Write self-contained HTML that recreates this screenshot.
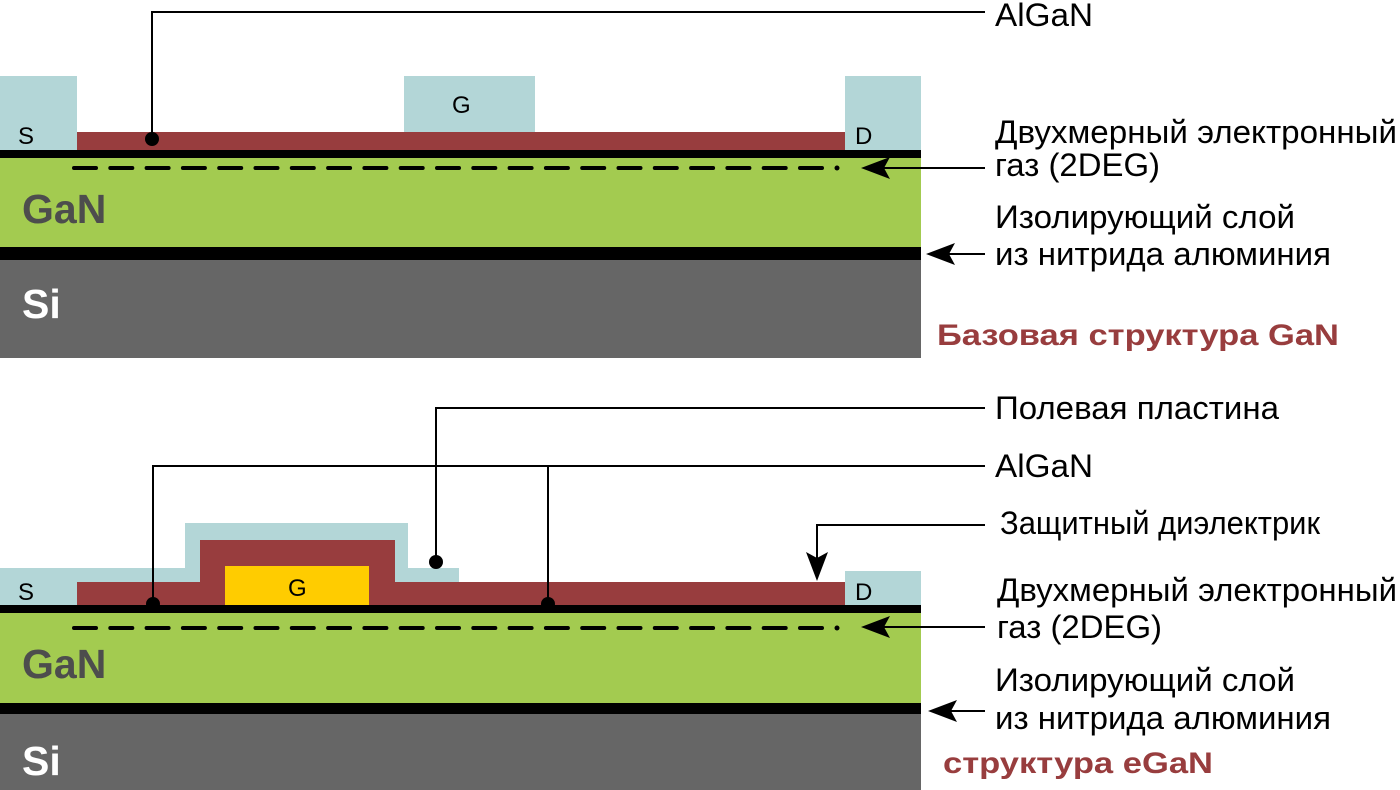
<!DOCTYPE html>
<html><head><meta charset="utf-8"><style>html,body{margin:0;padding:0;background:#fff}svg{display:block}</style></head>
<body>
<svg width="1400" height="790" viewBox="0 0 1400 790" xmlns="http://www.w3.org/2000/svg" font-family="Liberation Sans, sans-serif">
<!-- TOP -->
<rect x="0" y="76" width="77" height="74" fill="#b3d6d7"/>
<rect x="404" y="76" width="131" height="56" fill="#b3d6d7"/>
<rect x="845" y="76" width="76" height="74" fill="#b3d6d7"/>
<rect x="77" y="132" width="768" height="18" fill="#983d3e"/>
<rect x="0" y="150" width="921" height="8" fill="#000"/>
<rect x="0" y="158" width="921" height="89" fill="#a3cb50"/>
<rect x="0" y="247" width="921" height="13" fill="#000"/>
<rect x="0" y="260" width="921" height="98" fill="#666"/>
<line x1="74" y1="168" x2="830" y2="168" stroke="#000" stroke-width="4" stroke-dasharray="22 14.3" stroke-linecap="round"/>
<circle cx="837" cy="168" r="2.5" fill="#000"/>
<text x="18" y="144" font-size="24">S</text>
<text x="452" y="113" font-size="24">G</text>
<text x="855" y="144" font-size="24">D</text>
<text x="22" y="223" font-size="41" font-weight="bold" fill="#4d4d4d">GaN</text>
<text x="22" y="318" font-size="41" font-weight="bold" fill="#fff">Si</text>
<polyline points="152,139 152,12 985,12" fill="none" stroke="#000" stroke-width="2"/>
<circle cx="152" cy="139" r="7" fill="#000"/>
<line x1="985" y1="168" x2="875" y2="168" stroke="#000" stroke-width="2"/>
<polygon points="861,168 890,157 884,168 890,179" fill="#000"/>
<line x1="985" y1="254" x2="940" y2="254" stroke="#000" stroke-width="2"/>
<polygon points="926,254 955,243 949,254 955,265" fill="#000"/>
<g font-size="32" fill="#000">
<text x="995" y="26" textLength="98" lengthAdjust="spacingAndGlyphs">AlGaN</text>
<text x="995" y="143" textLength="402" lengthAdjust="spacingAndGlyphs">Двухмерный электронный</text>
<text x="995" y="176" textLength="165" lengthAdjust="spacingAndGlyphs">газ (2DEG)</text>
<text x="995" y="228" textLength="300" lengthAdjust="spacingAndGlyphs">Изолирующий слой</text>
<text x="995" y="265" textLength="336" lengthAdjust="spacingAndGlyphs">из нитрида алюминия</text>
</g>
<text x="937" y="345" font-size="30" font-weight="bold" fill="#983d3e" textLength="402" lengthAdjust="spacingAndGlyphs">Базовая структура GaN</text>
<!-- BOTTOM -->
<rect x="0" y="568" width="77" height="37" fill="#b3d6d7"/>
<polygon points="77,568 185,568 185,523 408,523 408,568 459,568 459,582 77,582" fill="#b3d6d7"/>
<rect x="845" y="571" width="76" height="34" fill="#b3d6d7"/>
<polygon points="77,582 200,582 200,540 395,540 395,582 845,582 845,605 77,605" fill="#983d3e"/>
<rect x="225" y="566" width="144" height="39" fill="#ffcc00"/>
<rect x="0" y="605" width="921" height="8" fill="#000"/>
<rect x="0" y="613" width="921" height="90" fill="#a3cb50"/>
<rect x="0" y="703" width="921" height="11" fill="#000"/>
<rect x="0" y="714" width="921" height="76" fill="#666"/>
<line x1="74" y1="628" x2="830" y2="628" stroke="#000" stroke-width="4" stroke-dasharray="22 14.3" stroke-linecap="round"/>
<circle cx="837" cy="628" r="2.5" fill="#000"/>
<text x="18" y="600" font-size="24">S</text>
<text x="288" y="596" font-size="24">G</text>
<text x="855" y="600" font-size="24">D</text>
<text x="22" y="678" font-size="41" font-weight="bold" fill="#4d4d4d">GaN</text>
<text x="22" y="775" font-size="41" font-weight="bold" fill="#fff">Si</text>
<polyline points="436,562 436,408 985,408" fill="none" stroke="#000" stroke-width="2"/>
<circle cx="436" cy="562" r="7" fill="#000"/>
<polyline points="153,604 153,466 985,466" fill="none" stroke="#000" stroke-width="2"/>
<line x1="548" y1="466" x2="548" y2="604" stroke="#000" stroke-width="2"/>
<circle cx="153" cy="604" r="7" fill="#000"/>
<circle cx="548" cy="604" r="7" fill="#000"/>
<polyline points="985,525 817,525 817,565" fill="none" stroke="#000" stroke-width="2"/>
<polygon points="817,581 806,552 817,558 828,552" fill="#000"/>
<line x1="985" y1="627" x2="875" y2="627" stroke="#000" stroke-width="2"/>
<polygon points="861,627 890,616 884,627 890,638" fill="#000"/>
<line x1="985" y1="711" x2="942" y2="711" stroke="#000" stroke-width="2"/>
<polygon points="928,711 957,700 951,711 957,722" fill="#000"/>
<g font-size="32" fill="#000">
<text x="995" y="419" textLength="284" lengthAdjust="spacingAndGlyphs">Полевая пластина</text>
<text x="995" y="477" textLength="98" lengthAdjust="spacingAndGlyphs">AlGaN</text>
<text x="1000" y="534" textLength="320" lengthAdjust="spacingAndGlyphs">Защитный диэлектрик</text>
<text x="997" y="601" textLength="400" lengthAdjust="spacingAndGlyphs">Двухмерный электронный</text>
<text x="997" y="638" textLength="165" lengthAdjust="spacingAndGlyphs">газ (2DEG)</text>
<text x="995" y="691" textLength="300" lengthAdjust="spacingAndGlyphs">Изолирующий слой</text>
<text x="995" y="729" textLength="336" lengthAdjust="spacingAndGlyphs">из нитрида алюминия</text>
</g>
<text x="943" y="773" font-size="30" font-weight="bold" fill="#983d3e" textLength="270" lengthAdjust="spacingAndGlyphs">структура eGaN</text>
</svg>
</body></html>
